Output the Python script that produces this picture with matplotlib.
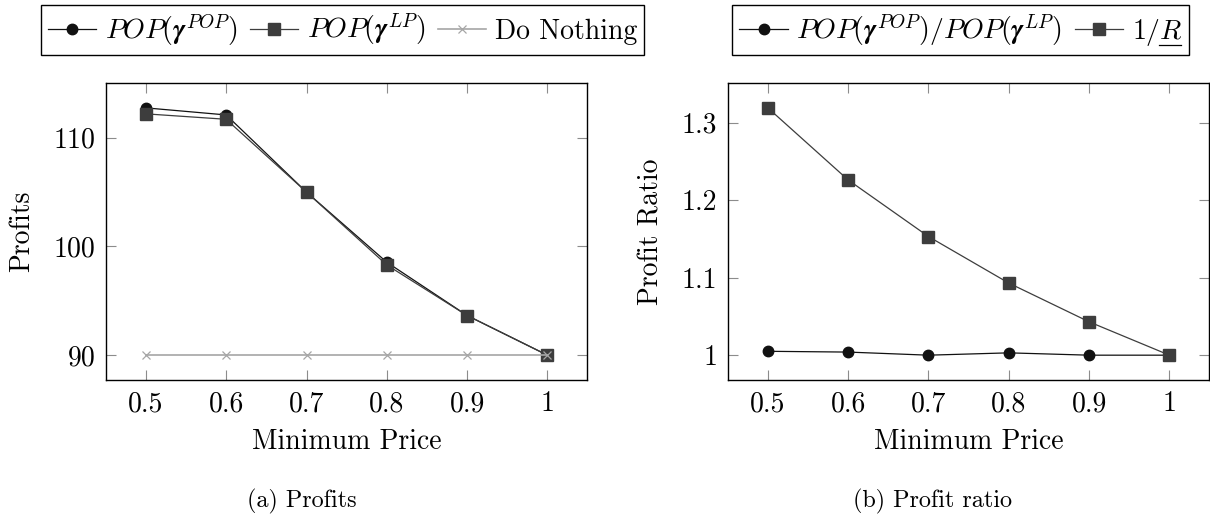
import matplotlib

matplotlib.use("Agg")

import matplotlib.pyplot as plt
from matplotlib.lines import Line2D

plt.rcParams["font.family"] = "serif"
plt.rcParams["font.serif"] = ["cmr10"]
plt.rcParams["mathtext.fontset"] = "cm"
plt.rcParams["axes.formatter.use_mathtext"] = True

# minimum price levels
min_price = [0.5, 0.6, 0.7, 0.8, 0.9, 1.0]
price_labels = ["0.5", "0.6", "0.7", "0.8", "0.9", "1"]

# (a) profits
profit_pop = [112.75, 112.1, 105.0, 98.55, 93.65, 90.0]
profit_lp = [112.2, 111.7, 105.0, 98.3, 93.65, 90.0]
profit_nothing = [90.0, 90.0, 90.0, 90.0, 90.0, 90.0]

# (b) profit ratio
ratio_pop_lp = [1.005, 1.004, 1.0, 1.003, 1.0, 1.0]
ratio_bound = [1.319, 1.226, 1.153, 1.093, 1.043, 1.0]

FS = 20
TICK_GRAY = "#8c8c8c"
LEG_KW = dict(loc="upper center", fontsize=FS, frameon=True, fancybox=False,
              edgecolor="black", framealpha=1, handlelength=1.75,
              handletextpad=0.3, columnspacing=0.45, borderpad=0.25,
              borderaxespad=0)


def style_axes(ax, yticks, ylabels):
    ax.set_xticks(min_price)
    ax.set_xticklabels(price_labels)
    ax.set_yticks(yticks)
    ax.set_yticklabels(ylabels)
    ax.set_xlim(0.451, 1.049)
    ax.tick_params(direction="in", length=7.5, width=0.8, color=TICK_GRAY,
                   top=True, right=True, labelsize=FS, pad=8)
    for sp in ax.spines.values():
        sp.set_linewidth(1.0)
    ax.set_xlabel("Minimum Price", fontsize=FS)
    ax.xaxis.set_label_coords(0.5, -0.208)
    ax.xaxis.label.set_va("center")


fig = plt.figure(figsize=(12.1, 5.17), dpi=100)
ax1 = fig.add_axes([0.088, 0.265, 0.397, 0.5745])
ax2 = fig.add_axes([0.602, 0.265, 0.397, 0.5745])

ax1.plot(min_price, profit_pop, color="#111111", lw=0.9, marker="o",
         ms=7.5, label=r"$POP(\mathbfit{\gamma}^{POP})$", zorder=3)
ax1.plot(min_price, profit_lp, color="#3d3d3d", lw=0.9, marker="s",
         ms=8, label=r"$POP(\mathbfit{\gamma}^{LP})$", zorder=4)
ax1.plot(min_price, profit_nothing, color="#a6a6a6", lw=1.2, marker="x",
         ms=6, mew=0.9, label="Do Nothing", zorder=5)
ax1.set_ylim(87.72, 115.04)
style_axes(ax1, [90, 100, 110], ["90", "100", "110"])
ax1.set_ylabel("Profits", fontsize=FS)
ax1.yaxis.set_label_coords(-0.176, 0.5)
ax1.yaxis.label.set_va("center")

fig.legend(*ax1.get_legend_handles_labels(), ncol=3,
           bbox_to_anchor=(0.283, 0.99), **LEG_KW)

ax2.plot(min_price, ratio_pop_lp, color="#111111", lw=0.9, marker="o",
         ms=7.5, label=r"$POP(\mathbfit{\gamma}^{POP})/POP(\mathbfit{\gamma}^{LP})$",
         zorder=3)
ax2.plot(min_price, ratio_bound, color="#3d3d3d", lw=0.9, marker="s",
         ms=8, label=r"$1/R$", zorder=4)
ax2.set_ylim(0.968, 1.351)
style_axes(ax2, [1.0, 1.1, 1.2, 1.3], ["1", "1.1", "1.2", "1.3"])
ax2.set_ylabel("Profit Ratio", fontsize=FS)
ax2.yaxis.set_label_coords(-0.16, 0.5)
ax2.yaxis.label.set_va("center")

leg2 = fig.legend(*ax2.get_legend_handles_labels(), ncol=2,
                  bbox_to_anchor=(0.794, 0.99), **LEG_KW)

fig.text(301.7 / 1210, 1 - 501.7 / 517, "(a) Profits", fontsize=17.4,
         ha="center", va="center")
fig.text(932 / 1210, 1 - 501.7 / 517, "(b) Profit ratio", fontsize=17.4,
         ha="center", va="center")

# mathtext has no \underline, so draw the bar under R by hand
fig.canvas.draw()
bb = leg2.get_texts()[1].get_window_extent()
fw, fh = fig.bbox.width, fig.bbox.height
x0 = bb.x0 + 0.55 * bb.width
x1 = bb.x1 - 0.03 * bb.width
yb = bb.y0 + 3
fig.add_artist(Line2D([x0 / fw, x1 / fw], [yb / fh, yb / fh], color="black",
                      lw=0.9, transform=fig.transFigure, zorder=10))

fig.savefig("out.png", dpi=100)
